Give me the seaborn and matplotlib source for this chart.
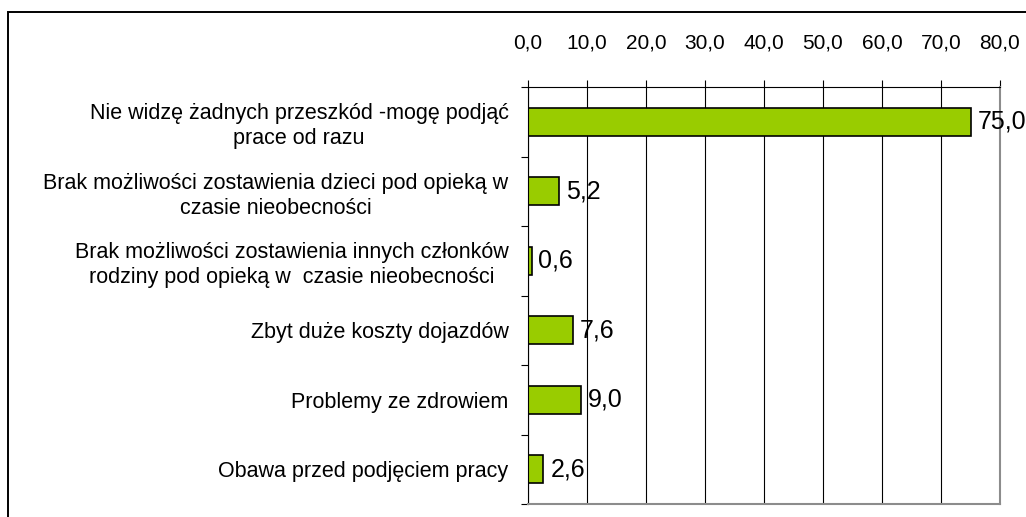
import matplotlib
matplotlib.use("Agg")
import matplotlib.pyplot as plt
from matplotlib.patches import Rectangle
from matplotlib.ticker import FixedLocator, FuncFormatter, MultipleLocator
import seaborn as sns
import pandas as pd

categories = [
    "Nie widzę żadnych przeszkód -mogę podjąć\nprace od razu",
    "Brak możliwości zostawienia dzieci pod opieką w\nczasie nieobecności",
    "Brak możliwości zostawienia innych członków\nrodziny pod opieką w  czasie nieobecności",
    "Zbyt duże koszty dojazdów",
    "Problemy ze zdrowiem",
    "Obawa przed podjęciem pracy",
]
values = [75.0, 5.2, 0.6, 7.6, 9.0, 2.6]
value_labels = ["75,0", "5,2", "0,6", "7,6", "9,0", "2,6"]

df = pd.DataFrame({"kategoria": categories, "procent": values})

sns.set_theme(style="white")
plt.rcParams["font.family"] = ["Liberation Sans", "DejaVu Sans"]

fig = plt.figure(figsize=(10.26, 5.17), dpi=100)
ax = fig.add_axes([528 / 1026, 1 - 504 / 517, (1000 - 528) / 1026, (504 - 87) / 517])

sns.barplot(data=df, x="procent", y="kategoria", orient="h", color="#99CC00",
            saturation=1, edgecolor="black", linewidth=1.2, width=0.4, ax=ax)

ax.set_xlim(0, 80)
ax.set_ylim(5.5, -0.5)
ax.set_xlabel("")
ax.set_ylabel("")

# x axis on top with comma decimals
ax.xaxis.tick_top()
ax.xaxis.set_major_locator(MultipleLocator(10))
ax.xaxis.set_major_formatter(FuncFormatter(lambda v, p: f"{v:.1f}".replace(".", ",")))
ax.tick_params(axis="x", which="major", top=True, bottom=False, direction="out",
               length=5, width=0.8, color="black", pad=20, labelsize=15,
               labelcolor="black")
ax.grid(axis="x", color="black", linewidth=0.8)
ax.set_axisbelow(True)

# category labels, with tick marks at the category boundaries
ax.tick_params(axis="y", which="major", left=False, length=0, pad=14, labelsize=15.5,
               labelcolor="black")
for lbl in ax.get_yticklabels():
    lbl.set_multialignment("center")
    lbl.set_linespacing(1.25)
ax.yaxis.set_minor_locator(FixedLocator([i - 0.5 for i in range(len(categories) + 1)]))
ax.tick_params(axis="y", which="minor", left=True, direction="out", length=5,
               width=0.8, color="black")

for side in ("left", "top"):
    ax.spines[side].set_color("black")
    ax.spines[side].set_linewidth(0.8)
for side in ("right", "bottom"):
    ax.spines[side].set_color("#8c8c8c")
    ax.spines[side].set_linewidth(1.5)

ax.bar_label(ax.containers[0], labels=value_labels, padding=5, fontsize=18,
             color="black", clip_on=False)

# outer frame of the chart
fig.patches.append(Rectangle((8 / 1026, -0.1), 1.2, 1 - 12 / 517 + 0.1,
                             transform=fig.transFigure, fill=False,
                             edgecolor="black", linewidth=1.4, zorder=10))

fig.savefig("out.png", dpi=100)
